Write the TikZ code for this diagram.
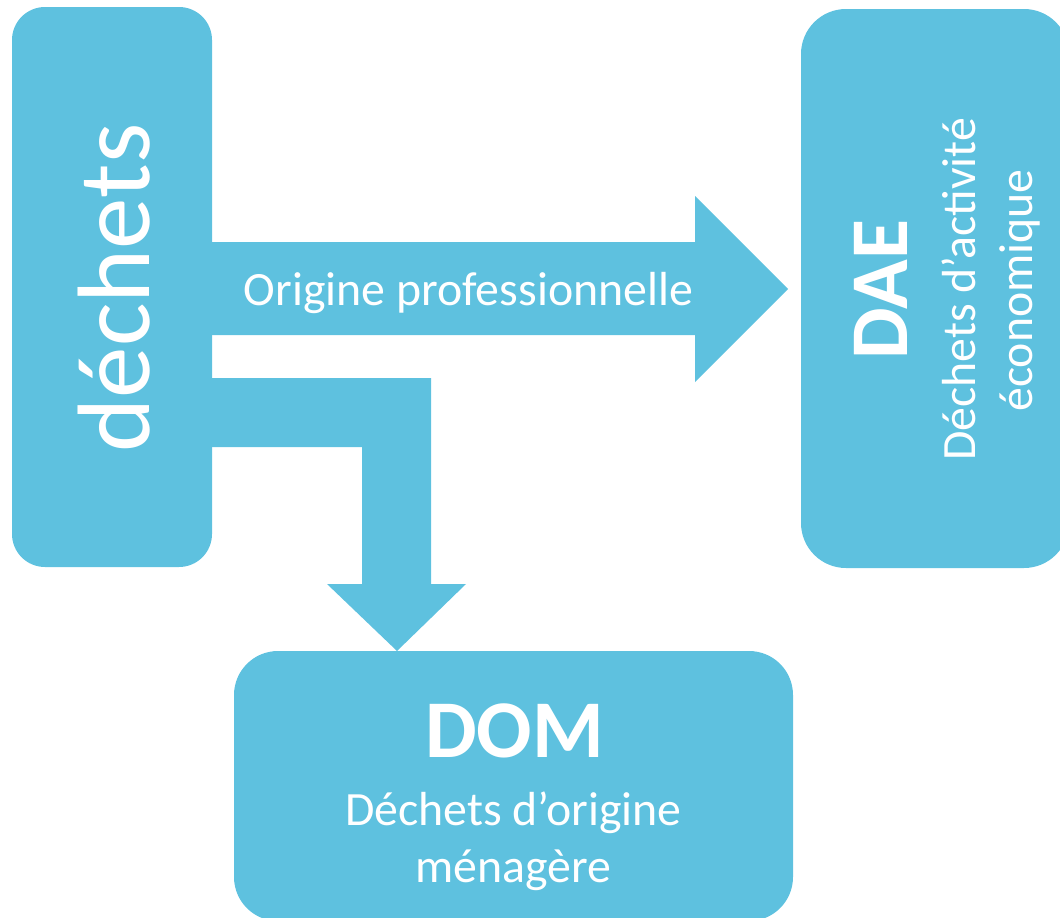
\documentclass[tikz,border=0pt]{standalone}
\usepackage{fontspec}
\setmainfont{Carlito}
\definecolor{cyanfill}{RGB}{94,193,223}
\begin{document}
\begin{tikzpicture}[x=1pt,y=-1pt,
  box/.style={fill=cyanfill, draw=none, inner sep=0pt},
  flow/.style={fill=cyanfill, draw=none},
  lbl/.style={text=white, inner sep=0pt, anchor=base},
  small/.style={font=\fontsize{47.8}{56}\selectfont},
  big/.style={font=\bfseries\fontsize{82}{96}\selectfont}
]
\useasboundingbox (0,0) rectangle (1060,918);
% boxes
\node[box, rounded corners=33pt, minimum width=200pt, minimum height=560pt] (dechets) at (112,287) {};
\node[box, rounded corners=45pt, minimum width=268pt, minimum height=559pt] (dae) at (935,288.5) {};
\node[box, rounded corners=44pt, minimum width=559pt, minimum height=270pt] (dom) at (513.5,786) {};
% arrow tips
\coordinate (tipR) at (788,289);
\coordinate (tipD) at (397,651);
% right block arrow
\fill[flow] (dechets.east |- 0,242) -- (695,242) -- (695,196) -- (tipR)
  -- (695,382) -- (695,335) -- (dechets.east |- 0,335) -- cycle;
% down block arrow
\fill[flow] (dechets.east |- 0,378) -- (431,378) -- (431,584) -- (466,584) -- (tipD)
  -- (327,584) -- (362,584) -- (362,447) -- (dechets.east |- 0,447) -- cycle;
% texts
\node[lbl, rotate=90, font=\fontsize{103}{120}\selectfont] (dtxt) at (149,288) {déchets};
\node[lbl, font=\fontsize{47.8}{56}\selectfont] (orig) at (468.5,305) {Origine professionnelle};
\node[lbl, big, rotate=90] (daeT) at (907,289.5) {DAE};
\node[lbl, small, rotate=90] (daeL1) at (975,289.5) {Déchets d’activité};
\node[lbl, small, rotate=90] (daeL2) at (1032,290.5) {économique};
\node[lbl, big] (domT) at (514.5,757) {DOM};
\node[lbl, small] (domL1) at (513.5,825) {Déchets d’origine};
\node[lbl, small] (domL2) at (513.5,882) {ménagère};
\end{tikzpicture}
\end{document}
